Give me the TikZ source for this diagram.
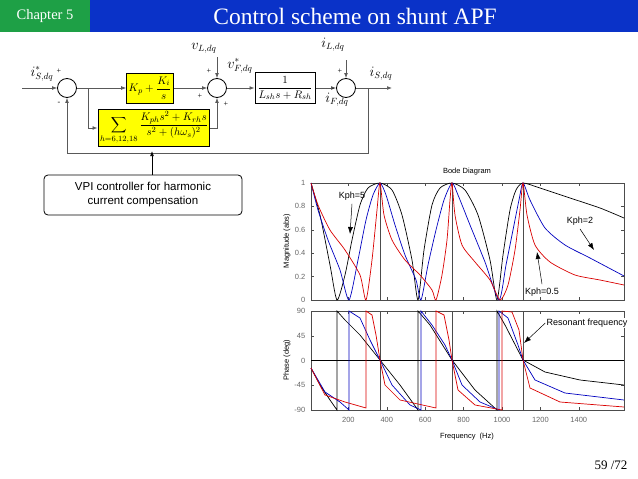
\documentclass[tikz,border=0pt]{standalone}
\usepackage{fontspec}
\setmainfont{Liberation Serif}
\setsansfont{Liberation Sans}
\usepackage{amsmath}
\usetikzlibrary{positioning, arrows.meta, calc}
\definecolor{hdrblue}{RGB}{10,50,200}
\definecolor{hdrgreen}{RGB}{30,160,70}
\definecolor{blkyellow}{RGB}{255,255,0}
\begin{document}
\begin{tikzpicture}[x=1pt, y=-1pt, thick, >={Latex[length=5pt]},
    sumnode/.style = {draw, circle, minimum size=19pt, inner sep=0pt},
    block/.style = {draw, line width=1pt, inner sep=2pt, font=\fontsize{11}{13}\selectfont},
    gain/.style = {block, fill=blkyellow},
    sig/.style = {gray!70!black, line width=0.7pt},
    lbl/.style = {font=\fontsize{13.5}{15}\selectfont},
    sgn/.style = {font=\fontsize{8}{9}\selectfont},
    ax/.style = {line width=0.5pt, gray!60!black},
    tick/.style = {font=\sffamily\fontsize{7.5}{8}\selectfont, text=gray!80!black},
    axl/.style = {font=\sffamily\fontsize{7.5}{8}\selectfont},
    kcurve/.style = {line width=0.7pt, black},
    bcurve/.style = {line width=0.7pt, blue!75!black},
    rcurve/.style = {line width=0.7pt, red!85!black},
    note/.style = {font=\sffamily\fontsize{9}{10}\selectfont}]
\useasboundingbox (0,0) rectangle (638,479);
% header
\fill[hdrgreen] (0,0) rectangle (90,32);
\fill[hdrblue] (90,0) rectangle (638,32);
\node[text=white, font=\fontsize{14.5}{16}\selectfont] (chap) at (45,16) {Chapter 5};
\node[text=white, font=\fontsize{23.5}{26}\selectfont] (title) at (355,16) {Control scheme on shunt APF};

% block diagram
\node[sumnode] (s1) at (67,88) {};
\node[sumnode] (s2) at (217,88) {};
\node[sumnode] (s3) at (346,88) {};
\node[gain, minimum width=45pt, minimum height=30pt] (pi) at (150,88) {$K_p+\dfrac{K_i}{s}$};
\node[gain, minimum width=108pt, minimum height=36pt] (vpi) at (154,128) {$\displaystyle\sum_{h=6,12,18}\frac{K_{ph}s^2+K_{rh}s}{s^2+(h\omega_s)^2}$};
\node[block, fill=white, minimum width=60pt, minimum height=31pt] (plant) at (285,88) {$\dfrac{1}{L_{sh}s+R_{sh}}$};
\coordinate (in) at (22,88);
\coordinate (out) at (392,88);
\coordinate (br) at (88,88);
\coordinate (fb) at (368,88);
\coordinate (vl) at (217,57);
\coordinate (il) at (346,60);
\draw[sig, ->] (in) -- (s1);
\draw[sig, ->] (s1) -- (pi);
\draw[sig, ->] (br) |- (vpi);
\draw[sig, ->] (pi) -- (s2);
\draw[sig, ->] (vpi.east) -| (s2);
\draw[sig, ->] (s2) -- (plant);
\draw[sig, ->] (plant) -- (s3);
\draw[sig, ->] (s3) -- (out);
\draw[sig, ->] (fb) |- (67,153) -- (s1);
\draw[sig, ->] (vl) -- (s2);
\draw[sig, ->] (il) -- (s3);
\node[lbl] (lis) at (42,74) {$i^{*}_{S,dq}$};
\node[lbl] (lvl) at (204,48) {$v_{L,dq}$};
\node[lbl] (lvf) at (240,66) {$v^{*}_{F,dq}$};
\node[lbl] (lil) at (333,45) {$i_{L,dq}$};
\node[lbl] (lif) at (337,100) {$i_{F,dq}$};
\node[lbl] (lso) at (381,74) {$i_{S,dq}$};
\node[sgn] at (59,71) {+};
\node[sgn] at (59,103) {-};
\node[sgn] at (209,71) {+};
\node[sgn] at (200,96) {+};
\node[sgn] at (226,104) {+};
\node[sgn] at (340,71) {+};
\node[sgn] at (333,89) {-};

% callout
\node[draw, rounded corners=4pt, line width=0.8pt, align=center, minimum width=198pt, minimum height=40pt,
      font=\sffamily\fontsize{11.5}{14}\selectfont] (call) at (143,195) {VPI controller for harmonic\\current compensation};
\coordinate (ptr) at (152,151);
\draw[line width=0.6pt, ->] (call.north -| ptr) -- (ptr);

% bode axes
\draw[ax] (311,183) rectangle (624,300);
\draw[ax] (311,311) rectangle (624,410);
\node[axl] (bt) at (467,172) {Bode Diagram};
\node[axl, rotate=90] (ym) at (287,241) {Magnitude (abs)};
\node[axl, rotate=90] (yp) at (287,360) {Phase (deg)};
\node[axl] (xl) at (467,437) {Frequency \ (Hz)};
\foreach \v/\y in {0/300,0.2/276.6,0.4/253.2,0.6/229.8,0.8/206.4,1/183}
  {\draw[ax] (311,\y) -- ++(3,0); \draw[ax] (624,\y) -- ++(-3,0);
   \node[tick, anchor=east] at (309,\y) {\v};}
\foreach \v/\y in {90/311,45/335.75,0/360.5,-45/385.25,-90/410}
  {\draw[ax] (311,\y) -- ++(3,0); \draw[ax] (624,\y) -- ++(-3,0);
   \node[tick, anchor=east] at (309,\y) {\v};}
\foreach \f in {200,400,...,1400}
  {\pgfmathsetmacro{\xx}{310+0.192*\f}
   \draw[ax] (\xx,300) -- ++(0,-3); \draw[ax] (\xx,183) -- ++(0,3);
   \draw[ax] (\xx,410) -- ++(0,-3); \draw[ax] (\xx,311) -- ++(0,3);
   \node[tick] at (\xx,420) {\f};}
\foreach \x in {380,452,523}
  {\draw[line width=0.4pt, gray!60!black] (\x,183) -- (\x,300); \draw[line width=0.4pt, gray!60!black] (\x,311) -- (\x,410);}
\draw[line width=0.5pt] (311,360.5) -- (624,360.5);

% magnitude curves
\draw[kcurve] plot[smooth, tension=0.4] coordinates {(311,183) (320,215) (330,265) (337,300) (345,275) (352,240) (360,205) (368,188) (380,183) (392,190) (402,215) (412,260) (418,300) (424,250) (432,205) (440,188) (452,183) (465,190) (478,215) (490,260) (497,300) (503,255) (510,210) (516,190) (523,183) (540,188) (570,198) (600,208) (624,218)};
\draw[bcurve] plot[smooth, tension=0.4] coordinates {(311,183) (318,210) (328,240) (340,270) (349,300) (358,260) (366,220) (373,195) (380,183) (386,195) (395,225) (405,255) (416,280) (421,300) (428,265) (436,230) (444,200) (452,183) (458,195) (470,225) (485,262) (499,300) (506,265) (513,230) (519,200) (523,183) (530,200) (545,228) (565,245) (590,258) (624,276)};
\draw[rcurve] plot[smooth, tension=0.4] coordinates {(311,183) (318,205) (330,230) (345,250) (360,275) (366,300) (372,260) (377,210) (380,183) (384,215) (392,240) (405,260) (420,275) (432,290) (436,300) (442,275) (447,240) (450,200) (452,183) (455,215) (462,245) (475,262) (490,280) (500,300) (508,285) (515,250) (520,210) (523,183) (527,215) (535,245) (550,262) (575,275) (600,280) (624,285)};

% phase curves
\draw[kcurve] (311,368) -- (320,385) -- (330,400) -- (337,410) -- (337,311) -- (345,320) -- (360,335) -- (380,360) -- (400,385) -- (418,410) -- (418,311) -- (430,325) -- (452,360) -- (475,390) -- (497,410) -- (497,311) -- (505,325) -- (523,360) -- (545,372) -- (580,380) -- (624,385);
\draw[bcurve] (311,368) -- (325,392) -- (340,402) -- (349,410) -- (349,311) -- (360,318) -- (370,340) -- (380,360) -- (392,385) -- (410,405) -- (421,410) -- (421,311) -- (432,325) -- (445,345) -- (452,360) -- (462,385) -- (480,402) -- (499,410) -- (499,311) -- (508,318) -- (518,345) -- (523,360) -- (535,380) -- (565,393) -- (624,400);
\draw[rcurve] (311,368) -- (325,395) -- (345,402) -- (366,408) -- (366,311) -- (372,315) -- (376,335) -- (380,360) -- (385,385) -- (400,400) -- (436,408) -- (436,311) -- (444,315) -- (449,340) -- (452,360) -- (458,390) -- (475,405) -- (502,410) -- (502,311) -- (512,312) -- (519,330) -- (523,360) -- (530,388) -- (560,402) -- (624,407);

% annotations
\node[note] (k5) at (352,196) {Kph=5};
\node[note] (k2) at (580,221) {Kph=2};
\node[note] (k05) at (542,292) {Kph=0.5};
\node[note, fill=white, inner sep=1pt] (res) at (587,323) {Resonant frequency};
\coordinate (k5t) at (350,234);
\coordinate (k2t) at (594,250);
\coordinate (k05t) at (537,252);
\coordinate (rest) at (524,343);
\draw[line width=0.5pt, -{Latex[length=7pt,width=5pt]}] (k5.south) -- (k5t);
\draw[line width=0.5pt, -{Latex[length=7pt,width=5pt]}] (k2.south) -- (k2t);
\draw[line width=0.5pt, -{Latex[length=7pt,width=5pt]}] (k05.north) -- (k05t);
\draw[line width=0.5pt, -{Latex[length=7pt,width=5pt]}] (res.west) -- (rest);

% footer
\node[font=\fontsize{13}{15}\selectfont] (pg) at (611,465) {59 /72};
\end{tikzpicture}
\end{document}
